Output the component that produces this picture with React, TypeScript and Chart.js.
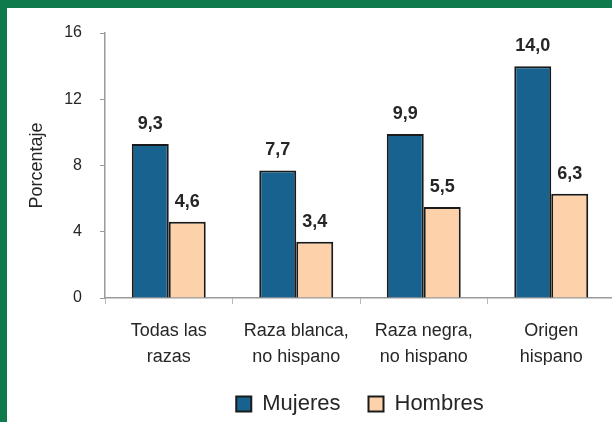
import React, { useEffect, useRef } from "react";
import { Chart, registerables } from "chart.js";

Chart.register(...registerables);

const categories: string[][] = [
  ["Todas las", "razas"],
  ["Raza blanca,", "no hispano"],
  ["Raza negra,", "no hispano"],
  ["Origen", "hispano"],
];
const mujeres = [9.3, 7.7, 9.9, 14.0];
const hombres = [4.6, 3.4, 5.5, 6.3];
const seriesLabels = ["Mujeres", "Hombres"];
const yAxisTitle = "Porcentaje";
const yMin = 0;
const yMax = 16;
const yStep = 4;

const FONT = '"Liberation Sans", Arial, sans-serif';
const TEXT = "#262626";
const BLUE = "#17628e";
const PEACH = "#fdd2aa";
const GREEN = "#0f7a4c";

const framePlugin = {
  id: "frame",
  beforeDraw(chart: any) {
    const { ctx, width, height } = chart;
    ctx.save();
    ctx.fillStyle = "#ffffff";
    ctx.fillRect(0, 0, width, height);
    ctx.restore();
  },
  afterDraw(chart: any) {
    const { ctx, width, height } = chart;
    ctx.save();
    ctx.fillStyle = GREEN;
    ctx.fillRect(0, 0, width, 8);
    ctx.fillRect(0, 0, 7, height);
    ctx.restore();
  },
};

const valueLabelPlugin = {
  id: "valueLabels",
  afterDatasetsDraw(chart: any) {
    const { ctx } = chart;
    ctx.save();
    ctx.font = `bold 18px ${FONT}`;
    ctx.fillStyle = TEXT;
    ctx.textAlign = "center";
    ctx.textBaseline = "middle";
    chart.data.datasets.forEach((ds: any, di: number) => {
      const meta = chart.getDatasetMeta(di);
      meta.data.forEach((bar: any, i: number) => {
        const v = ds.data[i] as number;
        ctx.fillText(v.toFixed(1).replace(".", ","), bar.x, bar.y - 20);
      });
    });
    ctx.restore();
  },
};

export default function App() {
  const ref = useRef<HTMLCanvasElement>(null);

  useEffect(() => {
    document.body.style.margin = "0";
    document.body.style.overflow = "hidden";
    const canvas = ref.current!;
    const chart = new Chart(canvas, {
      type: "bar",
      data: {
        labels: categories,
        datasets: [
          {
            label: seriesLabels[0],
            data: mujeres,
            backgroundColor: BLUE,
            borderColor: "#1a1a1a",
            borderWidth: 2,
            categoryPercentage: 0.58,
            barPercentage: 1.0,
          },
          {
            label: seriesLabels[1],
            data: hombres,
            backgroundColor: PEACH,
            borderColor: "#1a1a1a",
            borderWidth: 2,
            categoryPercentage: 0.58,
            barPercentage: 1.0,
          },
        ],
      },
      options: {
        responsive: false,
        animation: false,
        layout: { padding: { top: 33, left: 0, right: 0, bottom: 0 } },
        plugins: {
          tooltip: { enabled: false },
          legend: {
            position: "bottom",
            fullSize: false,
            labels: {
              boxWidth: 15,
              boxHeight: 15,
              padding: 28,
              color: TEXT,
              font: { family: FONT, size: 22 },
            },
          },
        },
        scales: {
          x: {
            grid: {
              drawOnChartArea: false,
              tickLength: 6,
              color: "#b8b8b8",
              offset: true,
            },
            border: { color: "#9a9a9a", width: 1.5 },
            ticks: {
              color: TEXT,
              padding: 14,
              font: { family: FONT, size: 18, lineHeight: 1.444 },
            },
            afterFit(scale: any) {
              scale.height = 67;
            },
          },
          y: {
            min: yMin,
            max: yMax,
            grid: {
              drawOnChartArea: false,
              tickLength: 5,
              color: "#9a9a9a",
            },
            border: { color: "#9a9a9a", width: 1.5 },
            ticks: {
              stepSize: yStep,
              color: TEXT,
              padding: 18,
              font: { family: FONT, size: 16 },
            },
            title: {
              display: true,
              text: yAxisTitle,
              color: TEXT,
              font: { family: FONT, size: 18 },
              padding: { top: 26, bottom: 0 },
            },
            afterFit(scale: any) {
              scale.width = 105;
            },
          },
        },
      },
      plugins: [framePlugin, valueLabelPlugin],
    } as any);
    return () => chart.destroy();
  }, []);

  return (
    <div
      style={{
        position: "fixed",
        left: 0,
        top: 0,
        width: 612,
        height: 422,
        overflow: "hidden",
        background: "#ffffff",
      }}
    >
      <canvas ref={ref} width={615} height={425} style={{ display: "block" }} />
    </div>
  );
}
